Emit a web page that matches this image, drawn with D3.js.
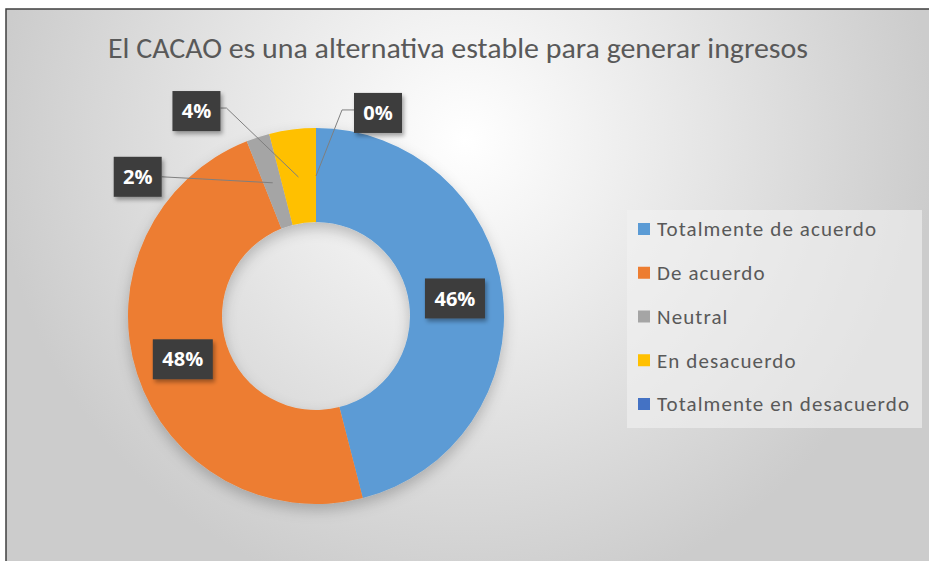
<!DOCTYPE html>
<html>
<head>
<meta charset="utf-8">
<script src="https://cdn.jsdelivr.net/npm/d3@7"></script>
<style>
  body { margin: 0; background: #fff; }
  svg { display: block; }
</style>
</head>
<body>
<svg id="graphic"></svg>
<script>
  // data
  var categories = ["Totalmente de acuerdo", "De acuerdo", "Neutral", "En desacuerdo", "Totalmente en desacuerdo"];
  var counts = [23, 24, 1, 2, 0];
  var colors = ["#5b9bd5", "#ed7d31", "#a5a5a5", "#ffc000", "#4472c4"];
  var title = "El CACAO es una alternativa estable para generar ingresos";

  var svgWidth = 929, svgHeight = 561;
  var cx = 316, cy = 316, radius = 188;

  var svg = d3.select('#graphic')
    .attr("width", svgWidth)
    .attr("height", svgHeight);

  var defs = svg.append("defs");
  var bg = defs.append("radialGradient").attr("id", "bg")
    .attr("gradientUnits", "userSpaceOnUse")
    .attr("cx", 465).attr("cy", 140).attr("r", 470);
  bg.append("stop").attr("offset", "0%").attr("stop-color", "#ffffff");
  bg.append("stop").attr("offset", "50%").attr("stop-color", "#e6e6e6");
  bg.append("stop").attr("offset", "100%").attr("stop-color", "#cccccc");

  var sh = defs.append("filter").attr("id", "shadow")
    .attr("x", "-20%").attr("y", "-20%").attr("width", "140%").attr("height", "150%");
  sh.append("feDropShadow").attr("dx", 0).attr("dy", 6).attr("stdDeviation", 7)
    .attr("flood-color", "#000").attr("flood-opacity", 0.22);

  var sh2 = defs.append("filter").attr("id", "boxshadow")
    .attr("x", "-30%").attr("y", "-30%").attr("width", "170%").attr("height", "170%");
  sh2.append("feDropShadow").attr("dx", 2).attr("dy", 3).attr("stdDeviation", 2)
    .attr("flood-color", "#000").attr("flood-opacity", 0.35);

  // chart area with frame
  svg.append("rect")
    .attr("x", 6).attr("y", 9)
    .attr("width", svgWidth + 10).attr("height", svgHeight + 10)
    .attr("fill", "url(#bg)")
    .attr("stroke", "#3f3f3f").attr("stroke-width", 1.5);

  svg.append("text")
    .attr("x", 458).attr("y", 58)
    .attr("text-anchor", "middle")
    .attr("font-family", "Carlito, 'Open Sans', sans-serif")
    .attr("font-size", 28)
    .attr("fill", "#595959")
    .attr("textLength", 700)
    .attr("lengthAdjust", "spacingAndGlyphs")
    .text(title);

  var data = categories.map(function(c, i) {
    return {name: c, value: counts[i], color: colors[i]};
  });
  var total = d3.sum(counts);

  var pie = d3.pie().sort(null).value(function(d) { return d.value; });
  var arcs = pie(data);

  var path = d3.arc().outerRadius(radius).innerRadius(radius * 0.5);
  var mid = d3.arc().outerRadius(radius * 0.75).innerRadius(radius * 0.74);

  var g = svg.append("g")
    .attr("transform", "translate(" + cx + "," + cy + ")");

  g.append("g").attr("filter", "url(#shadow)")
    .selectAll("path")
    .data(arcs)
    .enter()
    .append("path")
    .attr("d", path)
    .attr("fill", function(d) { return d.data.color; });

  // label box offsets from the slice centroid (null = centred on slice)
  var labelShift = [null, null, [-135, -6], [-102, -66], [62, -63]];

  var fmt = function(d) { return Math.round(d.data.value / total * 100) + "%"; };

  arcs.forEach(function(d, i) {
    var c = mid.centroid(d);
    var s = labelShift[i];
    var bx = s ? c[0] + s[0] : c[0];
    var by = s ? c[1] + s[1] : c[1];
    var w = fmt(d).length > 2 ? 60 : 48, h = 40;
    if (s) {
      // leader line
      var sx = s[0] < 0 ? bx + w / 2 : bx - w / 2;
      var elbow = s[0] < 0 ? sx + 6 : sx - 12;
      var pts = Math.abs(s[1]) > 20 ? [[sx, by - 3], [elbow, by - 3], c] : [[sx, by], c];
      g.append("path")
        .attr("d", d3.line()(pts))
        .attr("fill", "none")
        .attr("stroke", "#7f7f7f")
        .attr("stroke-width", 1);
    }
    g.append("rect")
      .attr("x", bx - w / 2).attr("y", by - h / 2)
      .attr("width", w).attr("height", h)
      .attr("fill", "#3d3d3d")
      .attr("filter", "url(#boxshadow)");
    g.append("text")
      .attr("x", bx).attr("y", by)
      .attr("dy", "0.36em")
      .attr("text-anchor", "middle")
      .attr("font-family", "'Open Sans', sans-serif")
      .attr("font-weight", "bold")
      .attr("font-size", 20)
      .attr("fill", "#ffffff")
      .text(fmt(d));
  });

  // legend
  var legend = svg.append("g");
  legend.append("rect")
    .attr("x", 627).attr("y", 210)
    .attr("width", 295).attr("height", 218)
    .attr("fill", "#f2f2f2").attr("fill-opacity", 0.6);

  var ly = d3.scalePoint().domain(categories).range([229, 404]);
  var item = legend.selectAll(".item")
    .data(data)
    .enter()
    .append("g")
    .attr("transform", function(d) { return "translate(638," + ly(d.name) + ")"; });
  item.append("rect")
    .attr("x", 0).attr("y", -6)
    .attr("width", 12).attr("height", 12)
    .attr("fill", function(d) { return d.color; });
  item.append("text")
    .attr("x", 19).attr("y", 0)
    .attr("dy", "0.35em")
    .attr("font-family", "Carlito, 'Open Sans', sans-serif")
    .attr("font-size", 21)
    .attr("letter-spacing", 1.1)
    .attr("fill", "#595959")
    .text(function(d) { return d.name; });
</script>
</body>
</html>
